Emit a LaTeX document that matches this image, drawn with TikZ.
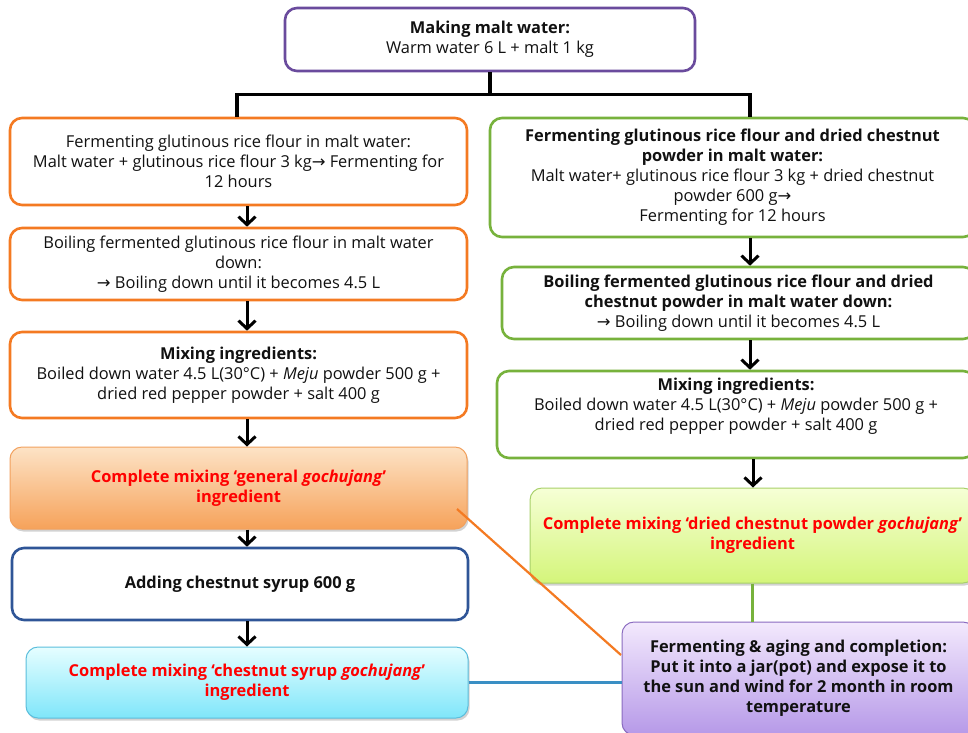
\documentclass[tikz,border=0pt]{standalone}
\usepackage{fontspec}
\setmainfont{Open Sans}
\newfontfamily\arrfont{DejaVu Sans}
\newcommand{\rarr}{{\arrfont →}}
\usetikzlibrary{arrows.meta,shadows}
\definecolor{topPurple}{HTML}{6A4B9D}
\definecolor{orng}{HTML}{F47A22}
\definecolor{grn}{HTML}{77B23C}
\definecolor{blu}{HTML}{2F5597}
\definecolor{redtxt}{HTML}{FF0000}
\definecolor{orTop}{HTML}{FDE3C6}
\definecolor{orBot}{HTML}{F6A25A}
\definecolor{orEdge}{HTML}{F2A15E}
\definecolor{cyTop}{HTML}{E6FEFF}
\definecolor{cyBot}{HTML}{7FE6FA}
\definecolor{cyEdge}{HTML}{5BBEDC}
\definecolor{lgTop}{HTML}{F6FFD6}
\definecolor{lgBot}{HTML}{D4F57A}
\definecolor{lgEdge}{HTML}{A8D06A}
\definecolor{puTop}{HTML}{F3E9FD}
\definecolor{puBot}{HTML}{B699E8}
\definecolor{puEdge}{HTML}{8A6BC0}
\definecolor{bluLine}{HTML}{3A8FC4}
\definecolor{txt}{HTML}{111111}
\tikzset{
  box/.style={draw, rounded corners=12pt, line width=2.6pt, align=center, inner sep=0pt,
    text=txt, font=\fontsize{16.4}{20}\selectfont},
  fillbox/.style={draw, rounded corners=12pt, line width=1pt, align=center, inner sep=0pt,
    font=\fontsize{16.4}{20}\selectfont\bfseries, text=redtxt,
    drop shadow={shadow xshift=1.5pt, shadow yshift=-2.5pt, opacity=0.35}},
  flowarr/.style={line width=3pt, -{Straight Barb[length=8pt,width=17pt]}},
  trunk/.style={line width=3.5pt},
}
\begin{document}
\begin{tikzpicture}[x=1pt,y=-1pt]
\useasboundingbox[fill=white] (0,0) rectangle (968,732);

% top
\node[box, draw=topPurple, minimum width=410pt, minimum height=63pt] (top) at (490,39.5)
  {\textbf{Making malt water:}\\Warm water 6 L + malt 1 kg};

% left column
\node[box, draw=orng, minimum width=457pt, minimum height=87pt] (L1) at (238.5,161.5)
  {Fermenting glutinous rice flour in malt water:\\Malt water + glutinous rice flour 3 kg\rarr\ Fermenting for\\12 hours};
\node[box, draw=orng, minimum width=457pt, minimum height=72pt] (L2) at (238.5,264)
  {Boiling fermented glutinous rice flour in malt water\\down:\\\rarr\ Boiling down until it becomes 4.5 L};
\node[box, draw=orng, minimum width=457pt, minimum height=86pt] (L3) at (238.5,375)
  {\textbf{Mixing ingredients:}\\Boiled down water 4.5 L(30°C) + \textit{Meju} powder 500 g +\\dried red pepper powder + salt 400 g};
\node[fillbox, draw=orEdge, top color=orTop, bottom color=orBot, minimum width=457pt, minimum height=82pt] (L4) at (238.5,488)
  {Complete mixing ‘general \textit{gochujang}’\\ingredient};
\node[box, draw=blu, minimum width=456pt, minimum height=72pt] (L5) at (240,584)
  {\textbf{Adding chestnut syrup 600 g}};
\node[fillbox, draw=cyEdge, top color=cyTop, bottom color=cyBot, minimum width=442pt, minimum height=71pt] (L6) at (247,682.5)
  {Complete mixing ‘chestnut syrup \textit{gochujang}’\\ingredient};

% right column
\node[box, draw=grn, minimum width=485pt, minimum height=119pt] (R1) at (732.5,177.5)
  {\textbf{Fermenting glutinous rice flour and dried chestnut}\\\textbf{powder in malt water:}\\Malt water+ glutinous rice flour 3 kg + dried chestnut\\powder 600 g\rarr\\Fermenting for 12 hours};
\node[box, draw=grn, minimum width=473pt, minimum height=72pt] (R2) at (738.5,303)
  {\textbf{Boiling fermented glutinous rice flour and dried}\\\textbf{chestnut powder in malt water down:}\\\rarr\ Boiling down until it becomes 4.5 L};
\node[box, draw=grn, minimum width=478pt, minimum height=87pt] (R3) at (736,414.5)
  {\textbf{Mixing ingredients:}\\Boiled down water 4.5 L(30°C) + \textit{Meju} powder 500 g +\\dried red pepper powder + salt 400 g\\[0pt]\mbox{}};
\node[fillbox, draw=lgEdge, top color=lgTop, bottom color=lgBot, minimum width=445pt, minimum height=95pt] (R4) at (752.5,535.5)
  {Complete mixing ‘dried chestnut powder \textit{gochujang}’\\ingredient};
\node[fillbox, draw=puEdge, top color=puTop, bottom color=puBot, text=txt, minimum width=353pt, minimum height=113pt] (R5) at (798.5,678.5)
  {Fermenting \& aging and completion:\\Put it into a jar(pot) and expose it to\\the sun and wind for 2 month in room\\temperature};

% column guides
\coordinate (cl) at (237,0);
\coordinate (cr) at (750,0);
\coordinate (al) at (247,0);
\coordinate (ar) at (750,0);
\coordinate (ar2) at (753,0);

% trunk from top
\draw[trunk] (top.south) -- ++(0,22) coordinate (j);
\draw[trunk] (L1.north -| cl) |- (j) -| (R1.north -| cr);

% left arrows
\draw[flowarr] (L1.south -| al) -- (L2.north -| al);
\draw[flowarr] (L2.south -| al) -- (L3.north -| al);
\draw[flowarr] (L3.south -| al) -- (L4.north -| al);
\draw[flowarr] (L4.south -| al) -- (L5.north -| al);
\draw[flowarr] (L5.south -| al) -- (L6.north -| al);

% right arrows
\draw[flowarr] (R1.south -| ar) -- (R2.north -| ar);
\draw[flowarr] (R2.south -| ar) -- (R3.north -| ar);
\draw[flowarr] (R3.south -| ar2) -- (R4.north -| ar2);

% links to final box
\coordinate (os) at (457,509);
\coordinate (oe) at (621,655);
\draw[orng, line width=2.2pt] (os) -- (oe);
\draw[bluLine, line width=2.2pt] (L6.east) -- (L6.east -| R5.west);
\draw[grn, line width=2.6pt] (R4.south) -- (R4.south |- R5.north);
\end{tikzpicture}
\end{document}
